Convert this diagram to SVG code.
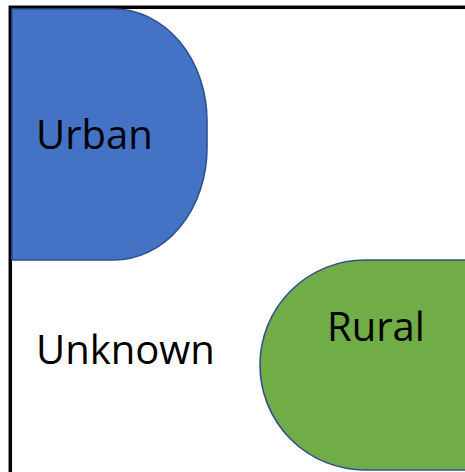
<svg xmlns="http://www.w3.org/2000/svg" width="465" height="472" viewBox="0 0 465 472">
  <style>
    .lbl { font-family: "Open Sans", "Liberation Sans", sans-serif; font-size: 40px; fill: #000000; }
    .shape { stroke: #2F528F; stroke-width: 1.6; }
  </style>
  <rect x="0" y="0" width="465" height="472" fill="#FFFFFF"/>
  <rect id="frame" x="10.3" y="7.3" width="470" height="480" fill="none" stroke="#000000" stroke-width="3.5"/>
  <g id="urban">
    <path class="shape" d="M12,9 H114 A93,112 0 0 1 207,121 V148 A93,112 0 0 1 114,260 H12 Z" fill="#4472C4"/>
    <text class="lbl" x="36" y="149">Urban</text>
  </g>
  <g id="rural">
    <path class="shape" d="M475,260 H365 A105,105 0 0 0 365,470 H475 Z" fill="#70AD47"/>
    <text class="lbl" x="327" y="341">Rural</text>
  </g>
  <g id="unknown">
    <text class="lbl" x="36" y="364">Unknown</text>
  </g>
  <g id="connectors"/>
</svg>
